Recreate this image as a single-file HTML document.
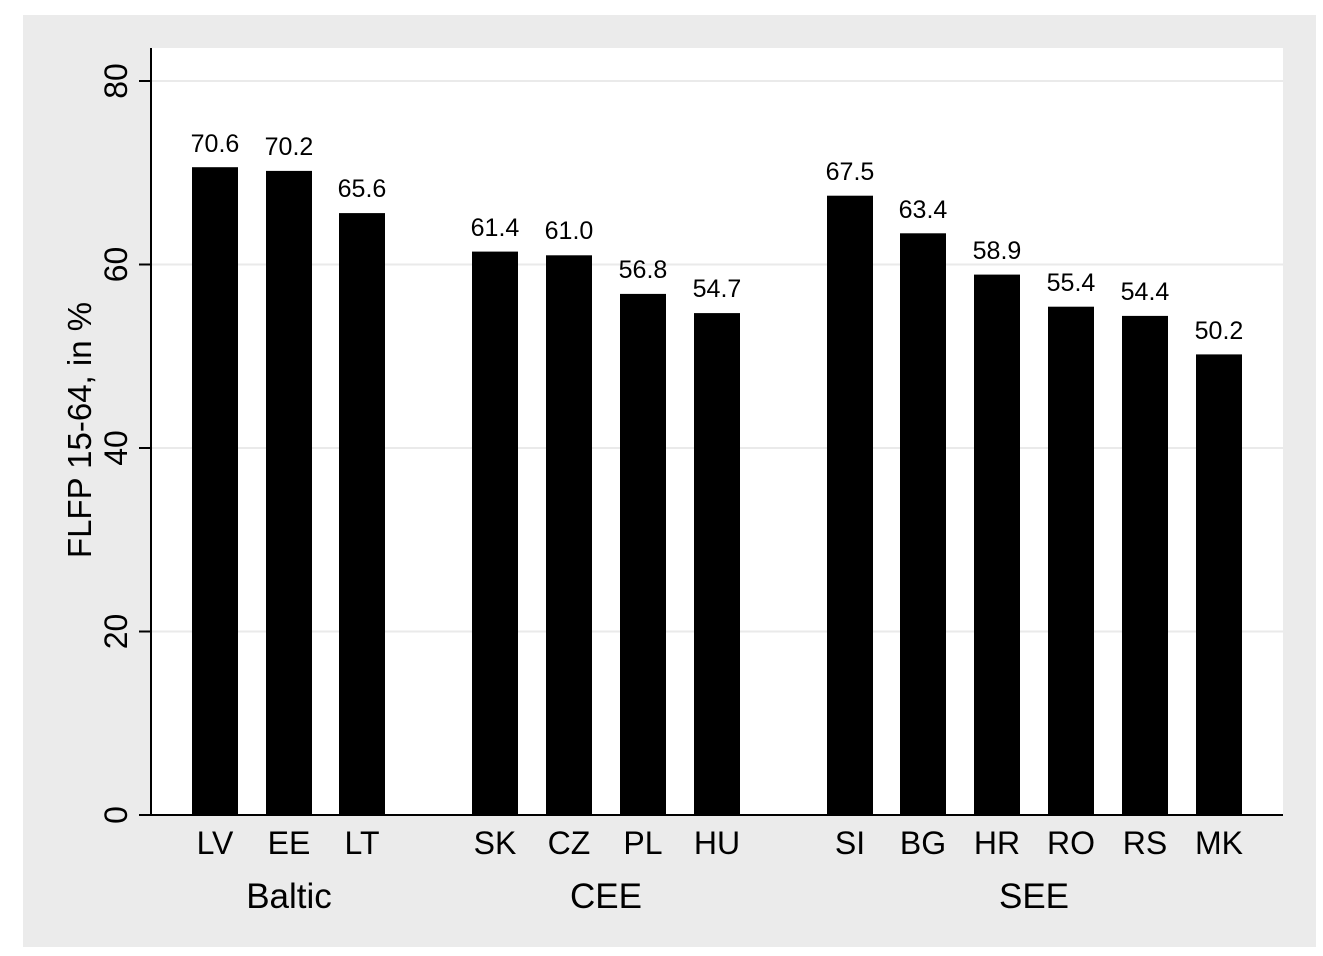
<!DOCTYPE html>
<html><head><meta charset="utf-8"><style>body{margin:0;background:#fff}</style></head><body>
<svg width="1323" height="951" xmlns="http://www.w3.org/2000/svg" font-family="Liberation Sans, Arial, sans-serif">
<rect x="23" y="15" width="1293" height="932" fill="#ebebeb"/>
<rect x="151" y="48" width="1132" height="767" fill="#fff"/>
<g stroke="#eaeaea" stroke-width="2">
<line x1="151" x2="1283" y1="81" y2="81"/><line x1="151" x2="1283" y1="264.5" y2="264.5"/>
<line x1="151" x2="1283" y1="448" y2="448"/><line x1="151" x2="1283" y1="631.5" y2="631.5"/>
</g>
<g stroke="#000" stroke-width="2">
<line x1="151" x2="151" y1="48" y2="816"/><line x1="150" x2="1283" y1="815" y2="815"/>
<line x1="139" x2="151" y1="81" y2="81"/><line x1="139" x2="151" y1="264.5" y2="264.5"/>
<line x1="139" x2="151" y1="448" y2="448"/><line x1="139" x2="151" y1="631.5" y2="631.5"/>
<line x1="139" x2="151" y1="815" y2="815"/>
</g>
<g font-size="32" text-anchor="middle">
<text transform="translate(127,81) rotate(-90)">80</text>
<text transform="translate(127,264.5) rotate(-90)">60</text>
<text transform="translate(127,448) rotate(-90)">40</text>
<text transform="translate(127,631.5) rotate(-90)">20</text>
<text transform="translate(127,815) rotate(-90)">0</text>
</g>
<text transform="translate(91,430) rotate(-90)" font-size="33" text-anchor="middle">FLFP 15-64, in %</text>
<g fill="#000">
<rect x="192" y="167.2" width="46" height="647.8"/>
<rect x="266" y="170.9" width="46" height="644.1"/>
<rect x="339" y="213.1" width="46" height="601.9"/>
<rect x="472" y="251.6" width="46" height="563.4"/>
<rect x="546" y="255.3" width="46" height="559.7"/>
<rect x="620" y="293.9" width="46" height="521.1"/>
<rect x="694" y="313.1" width="46" height="501.9"/>
<rect x="827" y="195.7" width="46" height="619.3"/>
<rect x="900" y="233.3" width="46" height="581.7"/>
<rect x="974" y="274.6" width="46" height="540.4"/>
<rect x="1048" y="306.7" width="46" height="508.3"/>
<rect x="1122" y="315.9" width="46" height="499.1"/>
<rect x="1196" y="354.4" width="46" height="460.6"/>
</g>
<g font-size="25" text-anchor="middle">
<text x="215" y="152">70.6</text><text x="289" y="155">70.2</text><text x="362" y="197">65.6</text>
<text x="495" y="236">61.4</text><text x="569" y="239">61.0</text><text x="643" y="278">56.8</text><text x="717" y="297">54.7</text>
<text x="850" y="180">67.5</text><text x="923" y="218">63.4</text><text x="997" y="259">58.9</text>
<text x="1071" y="291">55.4</text><text x="1145" y="300">54.4</text><text x="1219" y="339">50.2</text>
</g>
<g font-size="32" text-anchor="middle">
<text x="215" y="854">LV</text><text x="289" y="854">EE</text><text x="362" y="854">LT</text>
<text x="495" y="854">SK</text><text x="569" y="854">CZ</text><text x="643" y="854">PL</text><text x="717" y="854">HU</text>
<text x="850" y="854">SI</text><text x="923" y="854">BG</text><text x="997" y="854">HR</text>
<text x="1071" y="854">RO</text><text x="1145" y="854">RS</text><text x="1219" y="854">MK</text>
</g>
<g font-size="35" text-anchor="middle">
<text x="289" y="908">Baltic</text><text x="606" y="908">CEE</text><text x="1034" y="908">SEE</text>
</g>
</svg>
</body></html>
